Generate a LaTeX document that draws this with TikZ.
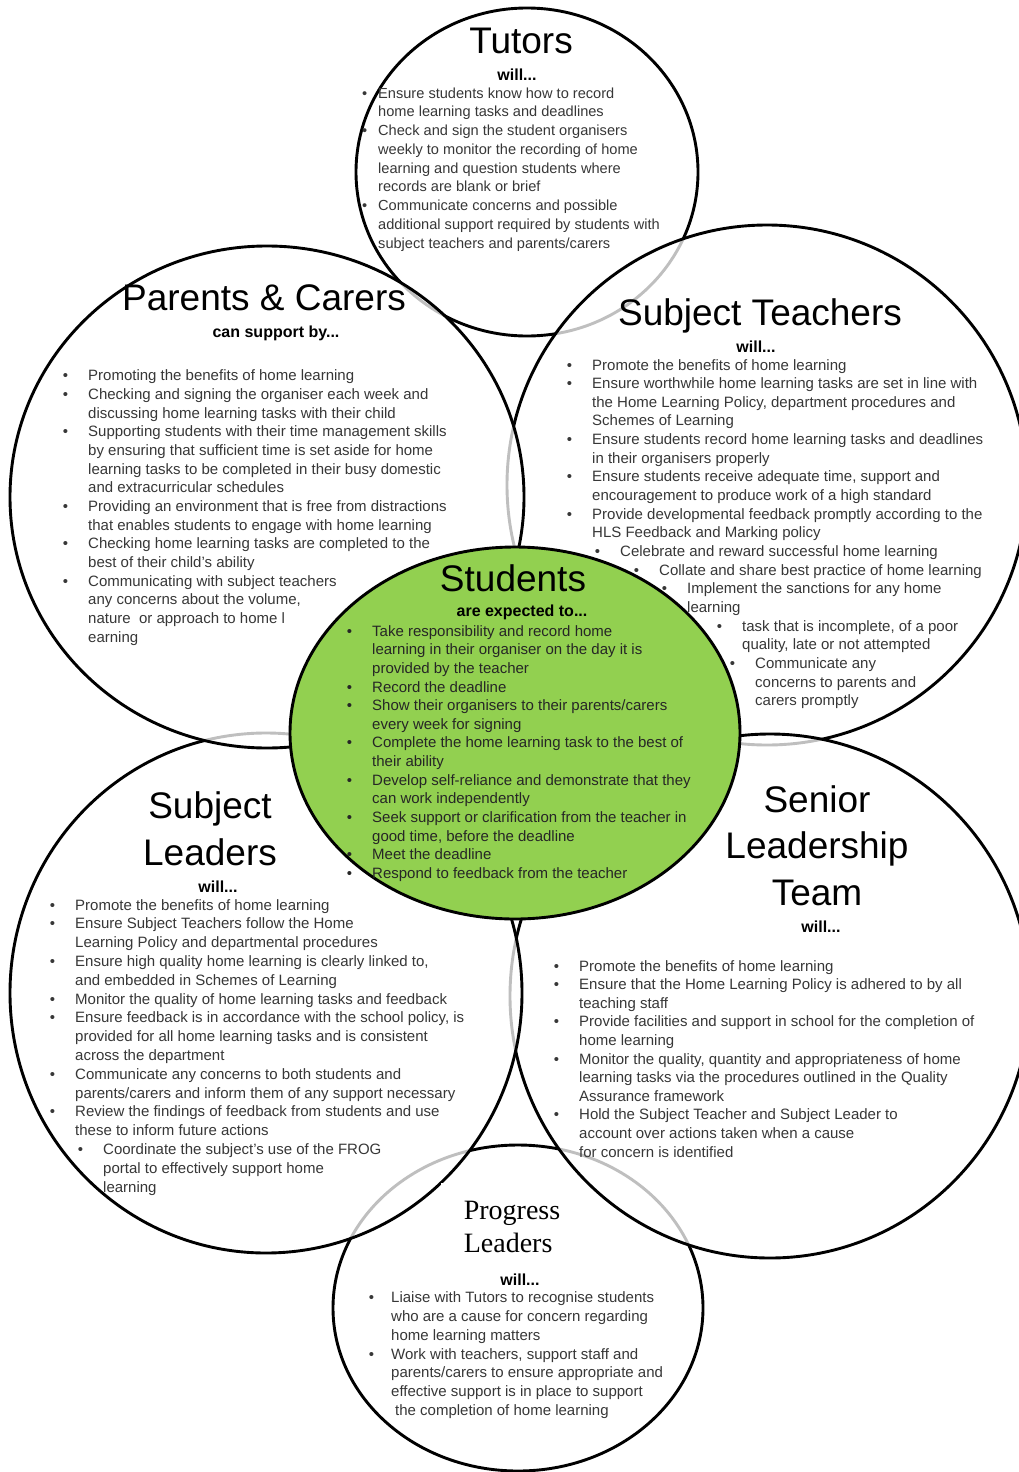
\documentclass[tikz,border=0pt]{standalone}
\usepackage{fontspec}
\setmainfont{Liberation Sans}
\newfontfamily\plfont{Liberation Serif}
\usepackage{tikz}
\usetikzlibrary{positioning,shapes.geometric}
\definecolor{leafgreen}{RGB}{146,208,80}
\definecolor{inkgray}{RGB}{55,55,55}
\newcommand{\bul}[1][20pt]{\llap{\textbullet\hspace{#1}}}
\tikzset{ring/.style={ellipse, draw=black, line width=2.9pt, fill=white, fill opacity=0.75, inner sep=0pt},
         head/.style={font=\fontsize{37}{46.5}\selectfont, align=center, inner sep=0pt, anchor=base},
         sub/.style={font=\bfseries\fontsize{16}{19}\selectfont, inner sep=0pt, anchor=base},
         list/.style={font=\fontsize{15}{18.65}\selectfont, text=inkgray, align=left, inner sep=0pt, anchor=base west}}

\begin{document}
\begin{tikzpicture}[x=1pt, y=-1pt]

             \useasboundingbox (0,0) rectangle (1018,1472);

             \node (tut) [ring, minimum width=342pt, minimum height=328pt] at (527,172) {};
             \node (prog) [ring, minimum width=370pt, minimum height=326pt] at (518,1308) {};
             \node (teach) [ring, minimum width=520pt, minimum height=520pt] at (767,485) {};
             \node (slt) [ring, minimum width=520pt, minimum height=524pt] at (770,996) {};
             \node (lead) [ring, minimum width=512pt, minimum height=520pt] at (266,993) {};
             \node (par) [ring, minimum width=514pt, minimum height=502pt] at (267,497) {};
             \node (stud) [ring, fill=leafgreen, fill opacity=1, minimum width=450pt, minimum height=372pt] at (515,733) {};

             \node (tutT) [head] at (521,53) {Tutors};
             \node (tutS) [sub] at (517,81) {will...};
             \node (tutL) [list, font=\fontsize{14.6}{18.75}\selectfont] at (378,248) {%
               \bul[11pt]Ensure students know how to record\\
               home learning tasks and deadlines\\
               \bul[11pt]Check and sign the student organisers\\
               weekly to monitor the recording of home\\
               learning and question students where\\
               records are blank or brief\\
               \bul[11pt]Communicate concerns and possible\\
               additional support required by students with\\
               subject teachers and parents/carers};

             \node (parT) [head] at (264,310) {Parents \& Carers};
             \node (parS) [sub] at (276,337) {can support by...};
             \node (parL) [list] at (88,642) {%
               \bul Promoting the benefits of home learning\\
               \bul Checking and signing the organiser each week and\\
               discussing home learning tasks with their child\\
               \bul Supporting students with their time management skills\\
               by ensuring that sufficient time is set aside for home\\
               learning tasks to be completed in their busy domestic\\
               and extracurricular schedules\\
               \bul Providing an environment that is free from distractions\\
               that enables students to engage with home learning\\
               \bul Checking home learning tasks are completed to the\\
               best of their child's ability\\
               \bul Communicating with subject teachers\\
               any concerns about the volume,\\
               nature\ \ or approach to home l\\
               earning};

             \node (teachT) [head] at (760,325) {Subject Teachers};
             \node (teachS) [sub] at (756,352) {will...};
             \node (teachL) [list] at (592,705.7) {%
               \bul Promote the benefits of home learning\\
               \bul Ensure worthwhile home learning tasks are set in line with\\
               the Home Learning Policy, department procedures and\\
               Schemes of Learning\\
               \bul Ensure students record home learning tasks and deadlines\\
               in their organisers properly\\
               \bul Ensure students receive adequate time, support and\\
               encouragement to produce work of a high standard\\
               \bul Provide developmental feedback promptly according to the\\
               HLS Feedback and Marking policy\\
               \hspace*{28pt}\bul Celebrate and reward successful home learning\\
               \hspace*{67pt}\bul Collate and share best practice of home learning\\
               \hspace*{95pt}\bul Implement the sanctions for any home\\
               \hspace*{95pt}learning\\
               \hspace*{150pt}\bul task that is incomplete, of a poor\\
               \hspace*{150pt}quality, late or not attempted\\
               \hspace*{163pt}\bul Communicate any\\
               \hspace*{163pt}concerns to parents and\\
               \hspace*{163pt}carers promptly};

             \node (studT) [head] at (513,591) {Students};
             \node (studS) [sub] at (522,616) {are expected to...};
             \node (studL) [list, text=black!85] at (372,878.5) {%
               \bul Take responsibility and record home\\
               learning in their organiser on the day it is\\
               provided by the teacher\\
               \bul Record the deadline\\
               \bul Show their organisers to their parents/carers\\
               every week for signing\\
               \bul Complete the home learning task to the best of\\
               their ability\\
               \bul Develop self-reliance and demonstrate that they\\
               can work independently\\
               \bul Seek support or clarification from the teacher in\\
               good time, before the deadline\\
               \bul Meet the deadline\\
               \bul Respond to feedback from the teacher};

             \node (leadT) [head, font=\fontsize{37}{47}\selectfont] at (210,865) {Subject\\Leaders};
             \node (leadS) [sub] at (218,892) {will...};
             \node (leadL) [list, font=\fontsize{15}{18.8}\selectfont] at (75,1192) {%
               \bul Promote the benefits of home learning\\
               \bul Ensure Subject Teachers follow the Home\\
               Learning Policy and departmental procedures\\
               \bul Ensure high quality home learning is clearly linked to,\\
               and embedded in Schemes of Learning\\
               \bul Monitor the quality of home learning tasks and feedback\\
               \bul Ensure feedback is in accordance with the school policy, is\\
               provided for all home learning tasks and is consistent\\
               across the department\\
               \bul Communicate any concerns to both students and\\
               parents/carers and inform them of any support necessary\\
               \bul Review the findings of feedback from students and use\\
               these to inform future actions\\
               \hspace*{28pt}\bul Coordinate the subject's use of the FROG\\
               \hspace*{28pt}portal to effectively support home\\
               \hspace*{28pt}learning};

             \node (sltT) [head] at (817,905) {Senior\\Leadership\\Team};
             \node (sltS) [sub] at (821,932) {will...};
             \node (sltL) [list, font=\fontsize{15}{18.6}\selectfont] at (579,1157) {%
               \bul Promote the benefits of home learning\\
               \bul Ensure that the Home Learning Policy is adhered to by all\\
               teaching staff\\
               \bul Provide facilities and support in school for the completion of\\
               home learning\\
               \bul Monitor the quality, quantity and appropriateness of home\\
               learning tasks via the procedures outlined in the Quality\\
               Assurance framework\\
               \bul Hold the Subject Teacher and Subject Leader to\\
               account over actions taken when a cause\\
               for concern is identified};

             \node (progT) [fill=white, minimum width=143pt, minimum height=88pt, inner sep=0pt, align=left,
                            font=\plfont\fontsize{28}{33}\selectfont] at (512,1227) {Progress\\Leaders};
             \node (progS) [sub] at (520,1285) {will...};
             \node (progL) [list, font=\fontsize{15}{18.67}\selectfont] at (391,1415) {%
               \bul[17pt]Liaise with Tutors to recognise students\\
               who are a cause for concern regarding\\
               home learning matters\\
               \bul[17pt]Work with teachers, support staff and\\
               parents/carers to ensure appropriate and\\
               effective support is in place to support\\
               \hspace*{4pt}the completion of home learning};

\end{tikzpicture}
\end{document}
